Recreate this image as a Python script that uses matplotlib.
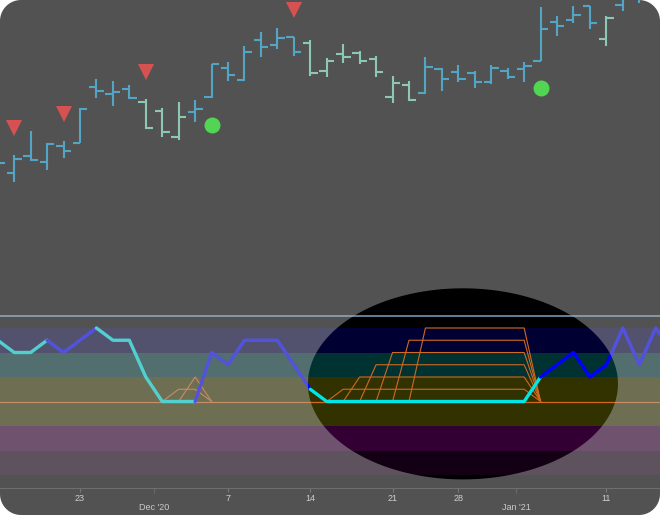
import numpy as np
import matplotlib
matplotlib.use("Agg")
import matplotlib.pyplot as plt
from matplotlib.path import Path
from matplotlib.patches import PathPatch, Polygon
from matplotlib.transforms import IdentityTransform, blended_transform_factory

plt.rcParams["font.family"] = ["Liberation Sans", "DejaVu Sans"]

# trading days (a few just outside the visible window)
dates = ["2020-11-16", "2020-11-17", "2020-11-18", "2020-11-19", "2020-11-20",
         "2020-11-23", "2020-11-24", "2020-11-25", "2020-11-27", "2020-11-30",
         "2020-12-01", "2020-12-02", "2020-12-03", "2020-12-04", "2020-12-07",
         "2020-12-08", "2020-12-09", "2020-12-10", "2020-12-11", "2020-12-14",
         "2020-12-15", "2020-12-16", "2020-12-17", "2020-12-18", "2020-12-21",
         "2020-12-22", "2020-12-23", "2020-12-24", "2020-12-28", "2020-12-29",
         "2020-12-30", "2020-12-31", "2021-01-04", "2021-01-05", "2021-01-06",
         "2021-01-07", "2021-01-08", "2021-01-11", "2021-01-12", "2021-01-13",
         "2021-01-14", "2021-01-15"]

opens = [123.2, 122.7, 124.4, 123.8, 125.4, 125.7, 131.3, 130.6, 131.1, 129.8,
         128.9, 126.3, 128.8, 130.3, 133.2, 132.0, 136.0, 135.5, 136.3, 135.7,
         132.9, 134.6, 134.7, 134.1, 130.3, 131.5, 130.7, 133.1, 132.8, 132.7,
         131.8, 132.9, 133.1, 133.9, 137.8, 138.0, 139.4, 136.1, 139.5, 140.3,
         141.2, 141.5]
highs = [124.5, 124.5, 126.9, 125.7, 125.9, 129.2, 132.1, 131.9, 131.5, 130.1,
         129.2, 129.8, 130.0, 133.6, 133.8, 135.4, 136.8, 137.2, 136.3, 136.0,
         134.2, 135.6, 134.9, 134.4, 132.4, 131.9, 134.3, 133.2, 133.5, 132.9,
         133.5, 133.2, 133.8, 139.3, 138.4, 139.4, 139.4, 138.4, 141.0, 141.5,
         142.0, 142.3]
lows = [122.8, 121.8, 123.9, 123.0, 124.2, 125.7, 130.2, 129.4, 130.1, 127.1,
        126.3, 126.0, 127.8, 130.2, 131.9, 131.9, 134.3, 135.1, 134.4, 132.4,
        132.3, 133.7, 133.6, 132.3, 129.7, 129.9, 130.6, 130.9, 131.8, 131.2,
        131.6, 132.1, 131.8, 133.9, 136.4, 137.7, 137.1, 135.4, 138.9, 139.7,
        140.4, 140.8]
closes = [123.7, 124.1, 124.0, 125.6, 124.9, 129.1, 130.9, 130.8, 130.2, 127.2,
          126.8, 128.3, 129.1, 133.6, 132.5, 134.8, 135.3, 136.2, 134.8, 132.7,
          133.9, 134.3, 133.9, 132.8, 131.7, 130.0, 133.3, 132.1, 132.1, 131.8,
          133.2, 132.3, 133.4, 137.1, 137.4, 138.5, 137.7, 138.2, 140.6, 141.0,
          141.6, 141.9]
# 1 = uptrend colour, 0 = downtrend colour
bar_trend = [1, 1, 1, 1, 1, 1, 1, 1, 1, 0,
             0, 0, 1, 1, 1, 1, 1, 1, 1, 0,
             0, 0, 0, 0, 0, 0, 1, 1, 1, 1,
             1, 1, 1, 1, 1, 1, 1, 0, 1, 1,
             1, 1]

sell_dates = ["2020-11-17", "2020-11-20", "2020-11-30", "2020-12-11"]
buy_dates = ["2020-12-04", "2021-01-05"]

# oscillator (lower panel)
osc = [5.5, 5, 5, 5.5, 5, 5.5, 6, 5.5, 5.5, 4,
       3, 3, 3, 5, 4.5, 5.5, 5.5, 5.5, 4.5, 3.5,
       3, 3, 3, 3, 3, 3, 3, 3, 3, 3,
       3, 3, 3, 4, 4.5, 5, 4, 4.5, 6, 4.5,
       6, 5]
# colour of the segment starting at each day: "c" cyan, "b" blue
osc_regime = ["c", "c", "c", "b", "b", "b", "c", "c", "c", "c",
              "c", "c", "b", "b", "b", "b", "b", "b", "b", "c",
              "c", "c", "c", "c", "c", "c", "c", "c", "c", "c",
              "c", "c", "c", "b", "b", "b", "b", "b", "b", "b",
              "b", "b"]

# projected count lines (orange)
base_level = 3
proj_start = ["2020-12-01", "2020-12-02", "2020-12-15", "2020-12-16", "2020-12-17",
              "2020-12-18", "2020-12-21", "2020-12-22"]
proj_top_from = ["2020-12-02", "2020-12-03", "2020-12-16", "2020-12-17", "2020-12-18",
                 "2020-12-21", "2020-12-22", "2020-12-23"]
proj_top_to = ["2020-12-03", "2020-12-03", "2021-01-04", "2021-01-04", "2021-01-04",
               "2021-01-04", "2021-01-04", "2021-01-04"]
proj_end = ["2020-12-04", "2020-12-04", "2021-01-05", "2021-01-05", "2021-01-05",
            "2021-01-05", "2021-01-05", "2021-01-05"]
proj_level = [3.5, 4, 3.5, 4, 4.5, 5, 5.5, 6]

band_from = [0, 1, 2, 3, 4, 5]
band_colors = ["#660066", "#ff00ff", "#ffff00", "#ffff00", "#00ffff", "#0000ff"]

day_ticks = ["2020-11-23", "2020-12-07", "2020-12-14", "2020-12-21", "2020-12-28", "2021-01-11"]
day_labels = ["23", "7", "14", "21", "28", "11"]
month_labels = ["Dec '20", "Jan '21"]

UP = "#0096d0"
DOWN = "#68d6b0"
pos = {d: i for i, d in enumerate(dates)}
x = np.arange(len(dates))

fig = plt.figure(figsize=(6.6, 5.15), dpi=100, facecolor="black")
W, H = 660, 515
ax_top = fig.add_axes([0, (H - 250) / H, 1, 250 / H])
ax_bot = fig.add_axes([0, (H - 487.5) / H, 1, 237.5 / H])
xlim = (0.137, 40.26)

# --- price bars
cols = [UP if t else DOWN for t in bar_trend]
ax_top.vlines(x, lows, highs, colors=cols, lw=1.5)
ax_top.hlines(opens, x - 0.45, x, colors=cols, lw=1.5)
ax_top.hlines(closes, x, x + 0.45, colors=cols, lw=1.5)
sx = [pos[d] for d in sell_dates]
bx = [pos[d] for d in buy_dates]
ax_top.plot(sx, [highs[i] + 2.7 for i in sx], "v", ms=11.5, color="#f00000", mew=0)
ax_top.plot(bx, [lows[i] - 2.7 for i in bx], "o", ms=11.5, color="#00ee00", mew=0)
ax_top.set_xlim(*xlim)
ax_top.set_ylim(115, 140)
ax_top.set_facecolor("none")
ax_top.axis("off")

# --- oscillator panel
for lo, c in zip(band_from, band_colors):
    ax_bot.axhspan(lo, lo + 1, color=c, alpha=0.2, lw=0, zorder=1)
ax_bot.axhline(6.5, color="#698aa4", lw=1.3, zorder=2)
ax_bot.axhline(base_level, color="#d2691e", lw=0.9, zorder=2)
for s, a, b, e, lv in zip(proj_start, proj_top_from, proj_top_to, proj_end, proj_level):
    ax_bot.plot([pos[s], pos[a], pos[b], pos[e]], [base_level, lv, lv, base_level],
                color="#d2691e", lw=0.8, zorder=2)

line_col = {"c": "#00e5e5", "b": "#0000ff"}
vals = np.array(osc, dtype=float)
n = len(vals)
i = 0
while i < n - 1:
    j = i
    while j + 1 < n - 1 and osc_regime[j + 1] == osc_regime[i]:
        j += 1
    ax_bot.plot(x[i:j + 2], vals[i:j + 2], color=line_col[osc_regime[i]], lw=2.4,
                solid_joinstyle="round", solid_capstyle="round", zorder=4)
    i = j + 1

ax_bot.set_xlim(*xlim)
ax_bot.set_ylim((475 - 487.5) / 24.5, (475 - 250) / 24.5)
ax_bot.set_facecolor("none")
for s in ["top", "left", "right"]:
    ax_bot.spines[s].set_visible(False)
ax_bot.spines["bottom"].set_color("#333333")
ax_bot.spines["bottom"].set_linewidth(0.8)
ax_bot.set_yticks([])
month_pos = [i - 0.5 for i in range(1, len(dates)) if dates[i][5:7] != dates[i - 1][5:7]]
ax_bot.set_xticks([pos[d] for d in day_ticks], day_labels)
ax_bot.set_xticks(month_pos, month_labels, minor=True)
ax_bot.tick_params(axis="x", which="major", length=3, width=0.8, color="#444444",
                   pad=1.5, labelsize=6.5, labelcolor="#e0e0e0")
ax_bot.tick_params(axis="x", which="minor", length=0, pad=11.5, labelsize=6.5,
                   labelcolor="#d8d8d8")
tr = blended_transform_factory(ax_bot.transData, ax_bot.transAxes)
for m in month_pos:
    ax_bot.plot([m, m], [0, -0.025], transform=tr, color="#555555", lw=0.8,
                ls=(0, (1, 1)), clip_on=False)

# --- spotlight: grey veil over everything except the highlighted ellipse
hl_center, hl_width = 28.28, 18.85
hl_level, hl_height = 3.72, 7.8
t = np.linspace(0, 2 * np.pi, 240)
ell = ax_bot.transData.transform(np.column_stack([
    hl_center + hl_width / 2 * np.cos(t), hl_level + hl_height / 2 * np.sin(t)]))
ell = ell[::-1]
rect = np.array([[0, 0], [W, 0], [W, H], [0, H], [0, 0]])
verts = np.vstack([rect, ell, ell[:1]])
codes = ([Path.MOVETO] + [Path.LINETO] * 3 + [Path.CLOSEPOLY]
         + [Path.MOVETO] + [Path.LINETO] * (len(ell) - 1) + [Path.CLOSEPOLY])
veil = PathPatch(Path(verts, codes), facecolor="#b8b8b8", alpha=0.45, lw=0,
                 transform=IdentityTransform(), zorder=5)
fig.add_artist(veil)

# rounded card corners
r = 21
for cx, cy, a0 in [(r, r, np.pi), (W - r, r, 1.5 * np.pi), (W - r, H - r, 0), (r, H - r, 0.5 * np.pi)]:
    a = np.linspace(a0, a0 + np.pi / 2, 20)
    arc = np.column_stack([cx + r * np.cos(a), cy + r * np.sin(a)])
    corner = (cx + r * np.sign(np.cos(a0 + np.pi / 4)), cy + r * np.sign(np.sin(a0 + np.pi / 4)))
    fig.add_artist(Polygon(np.vstack([arc, [corner]]), closed=True, facecolor="white",
                           lw=0, transform=IdentityTransform(), zorder=6))

fig.savefig("out.png", dpi=100)
